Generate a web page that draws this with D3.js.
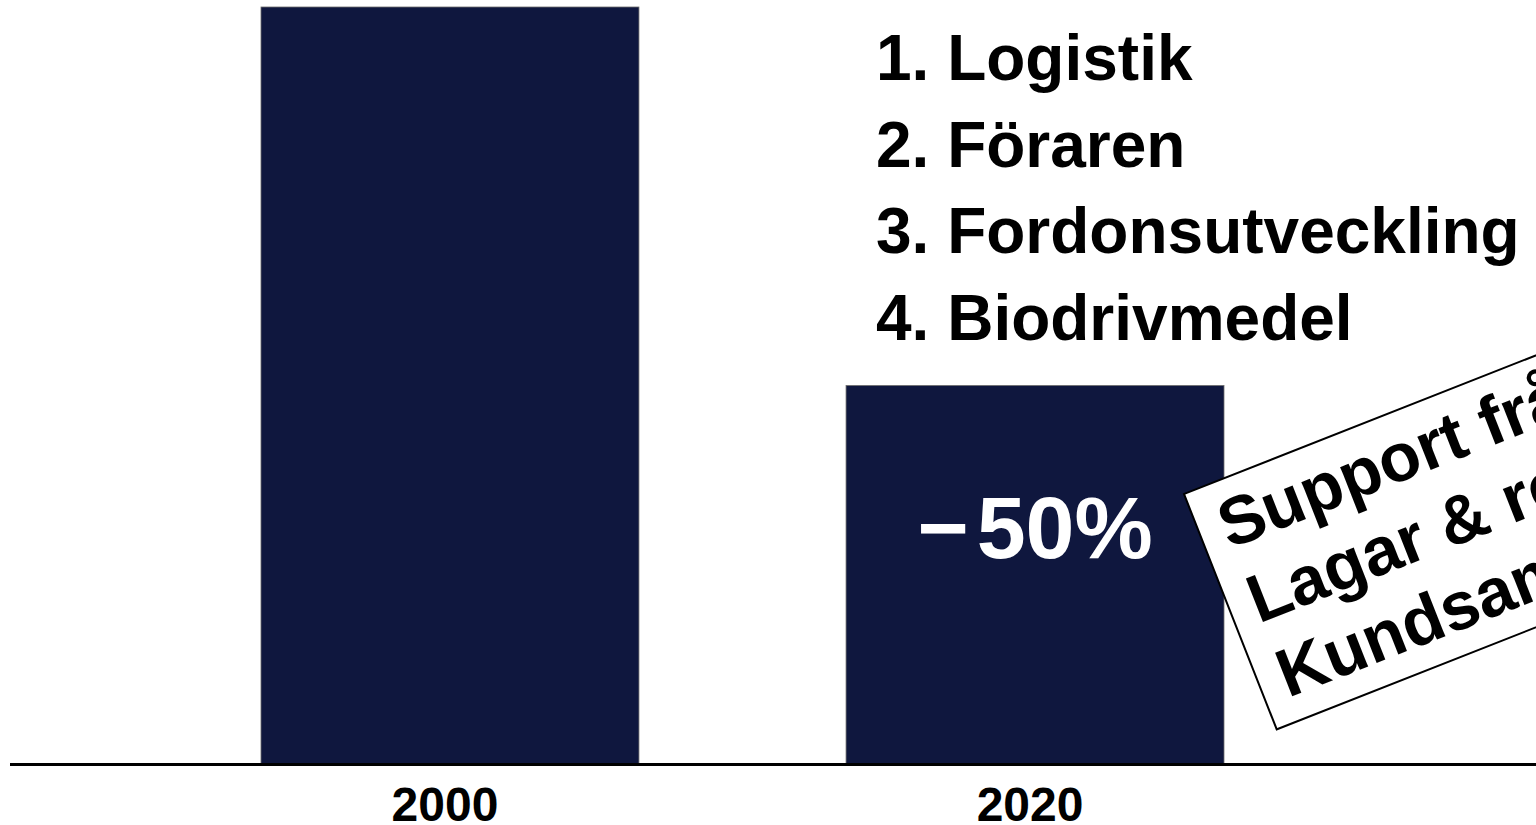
<!DOCTYPE html>
<html>
<head>
<meta charset="utf-8">
<script src="https://cdnjs.cloudflare.com/ajax/libs/d3/7.8.5/d3.min.js"></script>
<style>
  html, body { margin: 0; padding: 0; background: #fff; overflow: hidden; }
  svg { display: block; font-family: "Liberation Sans", Arial, sans-serif; font-weight: bold; }
</style>
</head>
<body>
<svg id="chart" width="1536" height="825"></svg>
<script>
var years = ["2000", "2020"];
var values = [100, 50];
var changeSign = "−";
var changeValue = "50%";
var steps = ["1. Logistik", "2. Föraren", "3. Fordonsutveckling", "4. Biodrivmedel"];
var supportLines = ["Support från", "Lagar & regler", "Kundsamverkan"];

var svg = d3.select("#chart"),
    width = +svg.attr("width"),
    height = +svg.attr("height");

var barColor = "#0f173e";

// scales
var x = d3.scaleBand()
    .domain(years)
    .range([261, 1224])
    .paddingInner(0.354)
    .paddingOuter(0);

var y = d3.scaleLinear()
    .domain([0, 100])
    .range([764, 7]);

// bars
svg.selectAll(".bar")
    .data(years)
    .enter().append("rect")
    .attr("class", "bar")
    .attr("x", function (d) { return x(d); })
    .attr("y", function (d, i) { return y(values[i]); })
    .attr("width", x.bandwidth())
    .attr("height", function (d, i) { return y(0) - y(values[i]); })
    .attr("fill", barColor)
    .attr("stroke", "#6b6b6b")
    .attr("stroke-width", 0.8);

// baseline
svg.append("line")
    .attr("x1", 10)
    .attr("x2", width)
    .attr("y1", y(0) + 0.5)
    .attr("y2", y(0) + 0.5)
    .attr("stroke", "#000")
    .attr("stroke-width", 3);

// year labels
svg.selectAll(".year")
    .data(years)
    .enter().append("text")
    .attr("class", "year")
    .attr("x", function (d) { return x(d) + x.bandwidth() / 2 - 5; })
    .attr("y", y(0) + 57)
    .attr("text-anchor", "middle")
    .attr("font-size", 48)
    .attr("fill", "#000")
    .text(function (d) { return d; });

// -50% label inside second bar
var change = svg.append("text")
    .attr("x", x(years[1]) + x.bandwidth() / 2)
    .attr("y", 558)
    .attr("text-anchor", "middle")
    .attr("font-size", 88)
    .attr("fill", "#fff");
change.append("tspan").text(changeSign);
change.append("tspan").attr("dx", 8).text(changeValue);

// numbered list
svg.selectAll(".step")
    .data(steps)
    .enter().append("text")
    .attr("class", "step")
    .attr("x", 876)
    .attr("y", function (d, i) { return 80 + i * 86.7; })
    .attr("font-size", 64)
    .attr("fill", "#000")
    .text(function (d) { return d; });

// rotated support box
var box = svg.append("g")
    .attr("transform", "translate(1184,494) rotate(-21.5)");

box.append("rect")
    .attr("x", 0)
    .attr("y", 0)
    .attr("width", 600)
    .attr("height", 253)
    .attr("fill", "#fff")
    .attr("stroke", "#000")
    .attr("stroke-width", 2);

box.selectAll(".support")
    .data(supportLines)
    .enter().append("text")
    .attr("class", "support")
    .attr("x", 22)
    .attr("y", function (d, i) { return 68 + i * 80; })
    .attr("font-size", 68)
    .attr("fill", "#000")
    .text(function (d) { return d; });
</script>
</body>
</html>
